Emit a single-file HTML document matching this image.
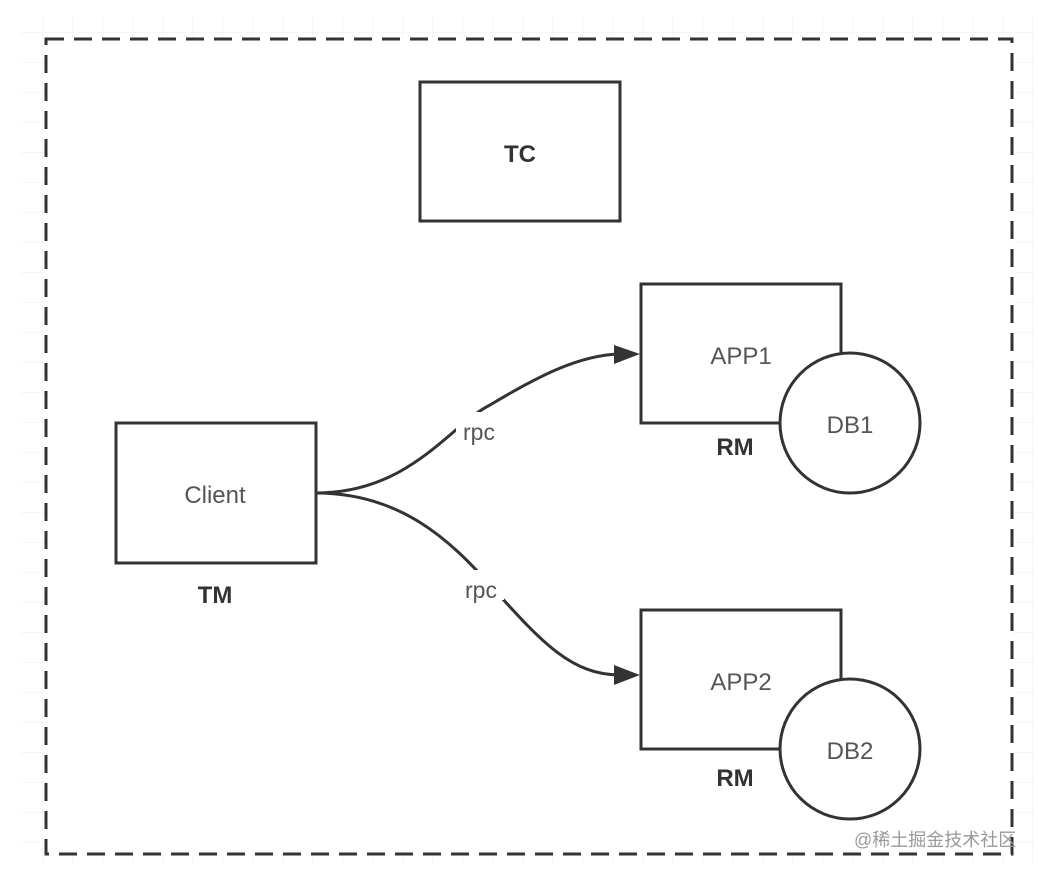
<!DOCTYPE html>
<html><head><meta charset="utf-8"><style>
html,body{margin:0;padding:0;background:#fff;}
svg{display:block;}
text{font-family:"Liberation Sans","Noto Sans CJK SC",sans-serif;}
</style></head><body>
<svg width="1038" height="874" viewBox="0 0 1038 874" xmlns="http://www.w3.org/2000/svg">
<defs>
<pattern id="g" x="13" y="3" width="30" height="30" patternUnits="userSpaceOnUse">
<path d="M30 0V30M0 30H30" fill="none" stroke="#ececec" stroke-width="1"/>
</pattern>
</defs>
<rect x="20" y="15" width="1015" height="850" fill="url(#g)"/>
<rect x="46" y="39" width="966" height="815" fill="#fff" stroke="#333" stroke-width="3" stroke-dasharray="18 10"/>
<rect x="420" y="82" width="200" height="139" fill="#fff" stroke="#333" stroke-width="3"/>
<text x="520" y="162" font-size="24" font-weight="bold" fill="#333" text-anchor="middle">TC</text>
<rect x="116" y="423" width="200" height="140" fill="#fff" stroke="#333" stroke-width="3"/>
<text x="215" y="503" font-size="24" fill="#555" text-anchor="middle">Client</text>
<text x="215" y="603" font-size="24" font-weight="bold" fill="#333" text-anchor="middle">TM</text>
<rect x="641" y="284" width="200" height="139" fill="#fff" stroke="#333" stroke-width="3"/>
<text x="741" y="364" font-size="24" fill="#555" text-anchor="middle">APP1</text>
<circle cx="850" cy="423" r="70" fill="#fff" stroke="#333" stroke-width="3"/>
<text x="850" y="433" font-size="24" fill="#555" text-anchor="middle">DB1</text>
<text x="735" y="455" font-size="24" font-weight="bold" fill="#333" text-anchor="middle">RM</text>
<rect x="641" y="610" width="200" height="139" fill="#fff" stroke="#333" stroke-width="3"/>
<text x="741" y="690" font-size="24" fill="#555" text-anchor="middle">APP2</text>
<circle cx="850" cy="749" r="70" fill="#fff" stroke="#333" stroke-width="3"/>
<text x="850" y="759" font-size="24" fill="#555" text-anchor="middle">DB2</text>
<text x="735" y="786" font-size="24" font-weight="bold" fill="#333" text-anchor="middle">RM</text>
<path d="M316 493C410 493 450 425 490 405C540 375 580 355 620 354" fill="none" stroke="#333" stroke-width="3"/>
<path d="M614 345L640 354L614 364Z" fill="#333"/>
<path d="M316 493C400 493 450 540 490 585C540 640 570 675 620 675" fill="none" stroke="#333" stroke-width="3"/>
<path d="M614 665L640 675L614 685Z" fill="#333"/>
<rect x="456" y="412" width="46" height="30" fill="#fff"/>
<text x="479" y="440" font-size="23" fill="#555" text-anchor="middle">rpc</text>
<rect x="458" y="570" width="46" height="30" fill="#fff"/>
<text x="481" y="598" font-size="23" fill="#555" text-anchor="middle">rpc</text>
<text x="854" y="846" font-size="18" fill="#999">@稀土掘金技术社区</text>
</svg>
</body></html>
